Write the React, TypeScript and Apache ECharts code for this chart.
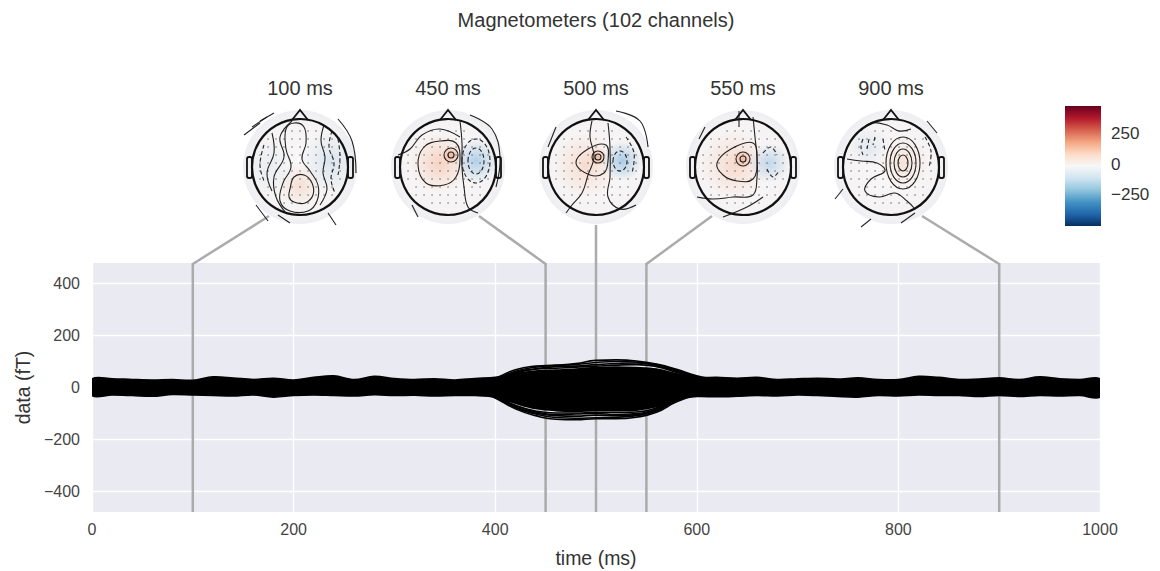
import React, { useEffect, useRef } from "react";
import * as echarts from "echarts";

// ---------- data ----------
const TIMES = [0,20,40,60,80,100,120,140,160,180,200,220,240,260,280,300,320,340,360,380,400,420,440,460,480,500,520,540,560,580,600,620,640,660,680,700,720,740,760,780,800,820,840,860,880,900,920,940,960,980,1000];
// dense core of the 102 overlapping channels (upper / lower envelope, fT)
const BAND_UPPER = [32,33,30,28,30,27,40,36,30,35,28,38,44,30,42,34,30,33,28,34,38,52,62,66,70,76,78,76,70,52,38,38,35,38,30,33,35,32,36,30,30,42,38,30,32,36,30,40,33,30,32];
const BAND_LOWER = [-30,-28,-30,-33,-26,-28,-30,-32,-28,-36,-30,-28,-30,-32,-27,-30,-29,-32,-30,-30,-36,-60,-80,-88,-90,-88,-88,-86,-72,-42,-34,-35,-33,-30,-32,-28,-30,-34,-36,-30,-32,-28,-30,-30,-34,-30,-34,-30,-32,-30,-36];
// individual channels that stand out during the evoked response
const BURST_TIMES = [380,400,420,440,460,480,500,520,540,560,580,600,620,640];
const CH_T1 = [5,35,68,82,86,92,104,106,102,90,70,45,30,15];
const CH_T2 = [0,30,62,78,84,88,96,100,98,88,66,42,25,10];
const CH_T3 = [5,28,58,72,80,82,88,92,94,84,62,40,22,10];
const CH_T4 = [0,25,55,70,74,78,82,86,88,80,58,38,20,5];
const CH_B1 = [-5,-40,-82,-108,-122,-124,-120,-120,-114,-95,-55,-30,-20,-10];
const CH_B2 = [0,-38,-78,-102,-115,-118,-116,-114,-108,-90,-50,-28,-15,-5];
const CH_B3 = [-5,-36,-75,-98,-108,-110,-106,-108,-104,-86,-48,-26,-15,0];
const CH_B4 = [0,-34,-70,-94,-104,-102,-100,-104,-100,-82,-46,-25,-12,-5];
const CH_B5 = [-5,-32,-68,-90,-98,-98,-96,-96,-94,-78,-44,-24,-10,0];
const BURST_CHANNELS = [CH_T1, CH_T2, CH_T3, CH_T4, CH_B1, CH_B2, CH_B3, CH_B4, CH_B5];

const TOPO_TIMES = [100, 450, 500, 550, 900];
const TOPO_LABELS = ["100 ms", "450 ms", "500 ms", "550 ms", "900 ms"];
const X_TICKS = [0, 200, 400, 600, 800, 1000];
const Y_TICKS = [-400, -200, 0, 200, 400];
const Y_LIMIT = 478;
const CBAR_TICKS = [250, 0, -250];
const CBAR_LIMIT = 490;
const TITLE = "Magnetometers (102 channels)";

// ---------- layout / style ----------
const FONT = "Liberation Sans, Arial, sans-serif";
const GRID = { left: 92, top: 263, width: 1008, height: 249 };
const HEAD_CX = [300, 448, 596, 743, 891];
const HEAD_CY = 167;
const HEAD_R = 48;
const OUTER_R = 57;
const CONNECT = "#ababab";

type Shape =
  | { k: "poly"; p: number[][]; d?: boolean }
  | { k: "loop"; p: number[][]; d?: boolean }
  | { k: "ell"; x: number; y: number; rx: number; ry: number; d?: boolean };
type Blob = { x: number; y: number; r: number; c: string };

const HEADS: { blobs: Blob[]; shapes: Shape[] }[] = [
  {
    blobs: [
      { x: 0, y: 18, r: 22, c: "rgba(243,205,185,0.55)" },
      { x: 30, y: -5, r: 30, c: "rgba(195,216,234,0.55)" },
      { x: -30, y: 0, r: 28, c: "rgba(220,230,240,0.5)" },
    ],
    shapes: [
      { k: "loop", p: [[-10,22],[-6,10],[4,8],[12,16],[13,28],[5,36],[-6,35],[-11,30]] },
      { k: "loop", p: [[-14,-38],[-6,-44],[4,-40],[6,-24],[2,-8],[10,4],[18,18],[17,34],[8,44],[-10,44],[-20,34],[-17,16],[-9,0],[-14,-18]] },
      { k: "poly", p: [[-8,-46],[-20,-30],[-16,-10],[-26,10],[-24,30],[-14,46]] },
      { k: "poly", p: [[24,-42],[21,-26],[25,-10],[23,6],[27,22],[20,38]] },
      { k: "poly", p: [[32,-36],[29,-20],[34,-4],[31,12],[35,26]], d: true },
      { k: "poly", p: [[38,-28],[40,-10],[38,8]], d: true },
      { k: "poly", p: [[-28,-34],[-26,-14],[-33,6],[-28,24]] },
      { k: "poly", p: [[-36,-22],[-40,-2],[-36,14]], d: true },
      { k: "poly", p: [[-40,-44],[-56,-32]] },
      { k: "poly", p: [[-33,-50],[-48,-40]] },
      { k: "poly", p: [[-26,-54],[-40,-46]] },
      { k: "poly", p: [[38,-48],[52,-26],[56,6]] },
      { k: "poly", p: [[-44,38],[-32,54]] },
      { k: "poly", p: [[28,46],[36,58]] },
      { k: "poly", p: [[-22,48],[-10,56]] },
    ],
  },
  {
    blobs: [
      { x: -8, y: -4, r: 30, c: "rgba(244,198,175,0.75)" },
      { x: 3, y: -12, r: 9, c: "rgba(240,172,142,0.8)" },
      { x: 28, y: -6, r: 22, c: "rgba(160,198,228,0.8)" },
    ],
    shapes: [
      { k: "loop", p: [[-30,-2],[-24,-20],[-8,-26],[8,-24],[12,-8],[8,10],[-4,18],[-22,16]] },
      { k: "ell", x: 3, y: -12, rx: 7, ry: 7 },
      { k: "ell", x: 3, y: -12, rx: 3, ry: 3 },
      { k: "ell", x: 28, y: -6, rx: 8, ry: 13, d: true },
      { k: "ell", x: 28, y: -6, rx: 14, ry: 22, d: true },
      { k: "poly", p: [[-50,-12],[-38,-18],[-26,-32],[-8,-38],[12,-30]] },
      { k: "poly", p: [[12,-46],[14,-24],[14,0],[16,20],[20,40],[30,46]] },
      { k: "poly", p: [[22,-52],[44,-38],[52,-10],[48,20]] },
      { k: "poly", p: [[-36,38],[-30,50]] },
    ],
  },
  {
    blobs: [
      { x: -10, y: -2, r: 32, c: "rgba(246,208,188,0.7)" },
      { x: 2, y: -10, r: 9, c: "rgba(240,175,145,0.85)" },
      { x: 26, y: -6, r: 20, c: "rgba(158,196,228,0.85)" },
    ],
    shapes: [
      { k: "loop", p: [[-20,-4],[-8,-18],[10,-22],[12,-6],[8,6],[-6,8]] },
      { k: "ell", x: 2, y: -10, rx: 6, ry: 6 },
      { k: "ell", x: 2, y: -10, rx: 3, ry: 3 },
      { k: "ell", x: 24, y: -6, rx: 7, ry: 10, d: true },
      { k: "poly", p: [[-4,-46],[-6,-30],[-2,-10],[-8,8],[-14,26],[-24,38],[-30,46]] },
      { k: "poly", p: [[12,-44],[14,-20],[14,10],[12,30],[24,42],[40,38]] },
      { k: "poly", p: [[30,-30],[38,-14],[36,6]], d: true },
      { k: "poly", p: [[-40,-40],[-48,-20]] },
      { k: "poly", p: [[20,-56],[44,-46],[52,-20]] },
    ],
  },
  {
    blobs: [
      { x: -8, y: -2, r: 34, c: "rgba(246,205,185,0.7)" },
      { x: 0, y: -8, r: 10, c: "rgba(240,178,150,0.8)" },
      { x: 26, y: -4, r: 20, c: "rgba(175,205,230,0.75)" },
    ],
    shapes: [
      { k: "loop", p: [[-26,-4],[-12,-18],[10,-24],[14,-6],[10,12],[-6,14],[-20,8]] },
      { k: "ell", x: 0, y: -8, rx: 7, ry: 7 },
      { k: "ell", x: 0, y: -8, rx: 3, ry: 3 },
      { k: "poly", p: [[20,-14],[28,-20],[34,-12]], d: true },
      { k: "poly", p: [[24,2],[30,10],[36,4]], d: true },
      { k: "poly", p: [[-4,-56],[-4,-40]] },
      { k: "poly", p: [[10,-50],[12,-30],[14,-10],[14,10],[10,28],[-10,30],[-30,32],[-46,30]] },
      { k: "poly", p: [[-20,50],[4,40],[20,30]] },
      { k: "poly", p: [[-38,-40],[-44,-28]] },
    ],
  },
  {
    blobs: [
      { x: 12, y: -4, r: 26, c: "rgba(243,212,196,0.6)" },
      { x: -22, y: -20, r: 20, c: "rgba(212,224,238,0.6)" },
    ],
    shapes: [
      { k: "ell", x: 12, y: -4, rx: 5, ry: 8 },
      { k: "ell", x: 12, y: -4, rx: 9, ry: 14 },
      { k: "ell", x: 12, y: -4, rx: 13, ry: 20 },
      { k: "ell", x: 12, y: -4, rx: 17, ry: 26 },
      { k: "poly", p: [[-28,-28],[-30,-20],[-28,-12]], d: true },
      { k: "poly", p: [[-22,-28],[-24,-18]], d: true },
      { k: "poly", p: [[-16,-30],[-18,-22]], d: true },
      { k: "poly", p: [[-8,-28],[-6,-16]], d: true },
      { k: "poly", p: [[-44,-8],[-30,-6],[-14,-4],[-6,4],[-20,12],[-26,24],[-12,30],[4,26],[16,34],[24,42]] },
      { k: "poly", p: [[-30,-36],[-20,-44],[-4,-42],[8,-36],[20,-38]] },
      { k: "poly", p: [[34,-30],[40,-16],[38,0]], d: true },
      { k: "poly", p: [[-48,22],[-56,32]] },
      { k: "poly", p: [[24,46],[10,56]] },
      { k: "poly", p: [[-20,52],[-30,60]] },
      { k: "poly", p: [[36,-46],[46,-34]] },
    ],
  },
];

const fmt = (v: number) => String(v).replace("-", "\u2212");

function headElements(i: number): any[] {
  const cx = HEAD_CX[i];
  const cy = HEAD_CY;
  const spec = HEADS[i];
  const els: any[] = [];
  els.push({
    type: "circle",
    shape: { cx, cy, r: OUTER_R },
    style: {
      fill: {
        type: "radial", x: 0.5, y: 0.5, r: 0.5,
        colorStops: [
          { offset: 0, color: "#faf8f8" },
          { offset: 0.8, color: "#f5f3f3" },
          { offset: 1, color: "#eeeef2" },
        ],
      },
    },
    z: 1,
  });
  spec.blobs.forEach((b) => {
    els.push({
      type: "circle",
      shape: { cx: cx + b.x, cy: cy + b.y, r: b.r },
      style: {
        fill: {
          type: "radial", x: 0.5, y: 0.5, r: 0.5,
          colorStops: [
            { offset: 0, color: b.c },
            { offset: 1, color: b.c.replace(/[\d.]+\)$/, "0)") },
          ],
        },
      },
      z: 2,
    });
  });
  // sensor dots
  for (let gx = -44; gx <= 44; gx += 8) {
    for (let gy = -44; gy <= 44; gy += 8) {
      const ox = gx + ((gy / 8) % 2 === 0 ? 0 : 4);
      if (ox * ox + gy * gy < 43 * 43) {
        els.push({ type: "circle", shape: { cx: cx + ox, cy: cy + gy, r: 0.6 }, style: { fill: "#444" }, z: 3 });
      }
    }
  }
  spec.shapes.forEach((s) => {
    const style = { fill: "none", stroke: "#222", lineWidth: 1.1, lineDash: s.d ? [4, 2.5] : null };
    if (s.k === "ell") {
      els.push({ type: "ellipse", shape: { cx: cx + s.x, cy: cy + s.y, rx: s.rx, ry: s.ry }, style, z: 4 });
    } else {
      els.push({
        type: s.k === "loop" ? "polygon" : "polyline",
        shape: { points: s.p.map((q) => [cx + q[0], cy + q[1]]), smooth: 0.4 },
        style,
        z: 4,
      });
    }
  });
  // head outline, nose, ears
  els.push({ type: "circle", shape: { cx, cy, r: HEAD_R }, style: { fill: "none", stroke: "#111", lineWidth: 2.2 }, z: 5 });
  els.push({ type: "polyline", shape: { points: [[cx - 8, cy - HEAD_R + 1], [cx, cy - HEAD_R - 9], [cx + 8, cy - HEAD_R + 1]] }, style: { fill: "none", stroke: "#111", lineWidth: 1.8 }, z: 5 });
  els.push({ type: "rect", shape: { x: cx - HEAD_R - 5, y: cy - 10, width: 5, height: 21, r: 2 }, style: { fill: "none", stroke: "#111", lineWidth: 1.8 }, z: 5 });
  els.push({ type: "rect", shape: { x: cx + HEAD_R, y: cy - 10, width: 5, height: 21, r: 2 }, style: { fill: "none", stroke: "#111", lineWidth: 1.8 }, z: 5 });
  els.push({
    type: "text", x: cx, y: 88,
    style: { text: TOPO_LABELS[i], fill: "#333", font: `20px ${FONT}`, textAlign: "center", textVerticalAlign: "middle" },
    z: 5,
  });
  return els;
}

export default function App() {
  const ref = useRef<HTMLDivElement>(null);
  useEffect(() => {
    if (!ref.current) return;
    const chart = echarts.init(ref.current, undefined, { renderer: "svg" });
    const series: any[] = [];
    TOPO_TIMES.forEach((t) => {
      series.push({
        type: "line", silent: true, symbol: "none", z: 1,
        data: [[t, -Y_LIMIT], [t, Y_LIMIT]],
        lineStyle: { color: CONNECT, width: 2.5 },
      });
    });
    series.push({
      type: "custom", silent: true, z: 3, clip: true,
      data: [[0, 0]],
      renderItem: (_params: any, api: any) => {
        const up = TIMES.map((t, i) => api.coord([t, BAND_UPPER[i]]));
        const lo = TIMES.map((t, i) => api.coord([t, BAND_LOWER[i]])).reverse();
        return {
          type: "polygon",
          shape: { points: up.concat(lo), smooth: 0.35 },
          style: { fill: "#000", stroke: "#000", lineWidth: 2 },
        };
      },
    });
    BURST_CHANNELS.forEach((ch) => {
      series.push({
        type: "line", symbol: "none", smooth: 0.5, z: 4, silent: true,
        data: BURST_TIMES.map((t, i) => [t, ch[i]]),
        lineStyle: { color: "#000", width: 1.6 },
      });
    });

    chart.setOption({
      animation: false,
      backgroundColor: "#fff",
      textStyle: { fontFamily: FONT },
      grid: { ...GRID, show: true, backgroundColor: "#EAEAF2", borderWidth: 0 },
      xAxis: {
        type: "value", min: 0, max: 1000, interval: 200,
        axisLine: { show: false }, axisTick: { show: false },
        axisLabel: { color: "#444", fontSize: 16, margin: 9, formatter: fmt, fontFamily: FONT },
        splitLine: { show: true, lineStyle: { color: "#fff", width: 1.3 } },
        name: "time (ms)", nameLocation: "middle", nameGap: 36,
        nameTextStyle: { color: "#333", fontSize: 19.5, fontFamily: FONT },
      },
      yAxis: {
        type: "value", min: -Y_LIMIT, max: Y_LIMIT,
        axisLine: { show: false },
        axisTick: { show: false, customValues: Y_TICKS },
        axisLabel: { color: "#444", fontSize: 16, margin: 12, formatter: fmt, customValues: Y_TICKS, fontFamily: FONT },
        splitLine: { show: true, lineStyle: { color: "#fff", width: 1.3 } },
        name: "data (fT)", nameLocation: "middle", nameGap: 59, nameRotate: 90,
        nameTextStyle: { color: "#333", fontSize: 19.5, fontFamily: FONT },
      },
      series,
    });

    const graphics: any[] = [];
    graphics.push({
      type: "text", x: 596, y: 20,
      style: { text: TITLE, fill: "#333", font: `20px ${FONT}`, textAlign: "center", textVerticalAlign: "middle" },
    });
    for (let i = 0; i < TOPO_TIMES.length; i++) graphics.push(...headElements(i));
    // connectors from each head to its time point on the top of the plot
    TOPO_TIMES.forEach((t, i) => {
      const p = chart.convertToPixel({ gridIndex: 0 }, [t, Y_LIMIT]) as number[];
      const cx = HEAD_CX[i];
      const dx = p[0] - cx;
      let sx = cx, sy = HEAD_CY + OUTER_R + 1;
      if (Math.abs(dx) > 5) {
        sx = cx + Math.sign(dx) * 31;
        sy = HEAD_CY + 49;
      }
      graphics.push({
        type: "line", shape: { x1: sx, y1: sy, x2: p[0], y2: p[1] + 1 },
        style: { stroke: CONNECT, lineWidth: 2.5 }, z: 0,
      });
    });
    // colour bar
    const cbX = 1065, cbY = 106, cbW = 36, cbH = 120;
    graphics.push({
      type: "rect", shape: { x: cbX, y: cbY, width: cbW, height: cbH },
      style: {
        fill: {
          type: "linear", x: 0, y: 0, x2: 0, y2: 1,
          colorStops: [
            { offset: 0, color: "#67001f" },
            { offset: 0.1, color: "#b2182b" },
            { offset: 0.2, color: "#d6604d" },
            { offset: 0.3, color: "#f4a582" },
            { offset: 0.4, color: "#fddbc7" },
            { offset: 0.5, color: "#f7f7f7" },
            { offset: 0.6, color: "#d1e5f0" },
            { offset: 0.7, color: "#92c5de" },
            { offset: 0.8, color: "#4393c3" },
            { offset: 0.9, color: "#2166ac" },
            { offset: 1, color: "#053061" },
          ],
        },
      },
    });
    CBAR_TICKS.forEach((v) => {
      const y = cbY + cbH / 2 - (v / CBAR_LIMIT) * (cbH / 2) - 2;
      graphics.push({
        type: "text", x: 1111, y,
        style: { text: fmt(v), fill: "#333", font: `17px ${FONT}`, textAlign: "left", textVerticalAlign: "middle" },
      });
    });
    chart.setOption({ graphic: { elements: graphics } });

    return () => chart.dispose();
  }, []);
  return <div ref={ref} style={{ position: "fixed", left: 0, top: 0, width: 1160, height: 571 }} />;
}
